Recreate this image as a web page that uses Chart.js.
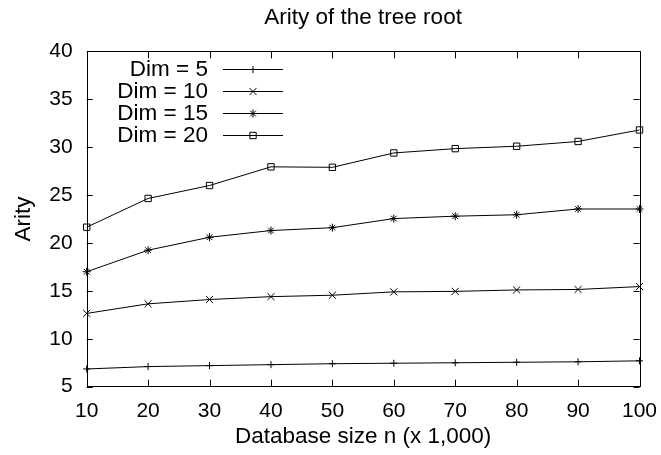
<!DOCTYPE html>
<html>
<head>
    <title>Arity of the tree root</title>
    <script src="https://cdn.jsdelivr.net/npm/chart.js"></script>
    <style>
        body { margin: 0; background: #fff; }
    </style>
</head>
<body>
    <canvas id="arityChart" width="661" height="455"></canvas>

    <script>
        // values
        const sizes = [10, 20, 30, 40, 50, 60, 70, 80, 90, 100];
        const dim5  = [6.85, 7.1, 7.2, 7.3, 7.4, 7.45, 7.5, 7.55, 7.6, 7.7];
        const dim10 = [12.65, 13.65, 14.1, 14.4, 14.55, 14.9, 14.95, 15.1, 15.15, 15.45];
        const dim15 = [17.0, 19.25, 20.6, 21.3, 21.6, 22.55, 22.8, 22.95, 23.55, 23.55];
        const dim20 = [21.65, 24.65, 26.0, 27.95, 27.9, 29.4, 29.85, 30.1, 30.6, 31.8];
        const seriesLabels = ['Dim = 5', 'Dim = 10', 'Dim = 15', 'Dim = 20'];
        const seriesStyles = ['cross', 'crossRot', 'star', 'rect'];
        const seriesRadius = [3.5, 5, 4, 4.5];

        const FONT = "'Liberation Sans', Arial, Helvetica, sans-serif";

        function points(vals) {
            return sizes.map((s, i) => ({ x: s, y: vals[i] }));
        }

        const datasets = [dim5, dim10, dim15, dim20].map((vals, i) => ({
            label: seriesLabels[i],
            data: points(vals),
            borderColor: '#000',
            borderWidth: 1,
            backgroundColor: 'rgba(0,0,0,0)',
            pointStyle: seriesStyles[i],
            pointRadius: seriesRadius[i],
            pointBorderColor: '#000',
            pointBorderWidth: 1,
            pointBackgroundColor: 'rgba(0,0,0,0)',
            tension: 0,
            clip: false
        }));

        // gnuplot style frame with inward ticks on all sides
        const framePlugin = {
            id: 'frame',
            afterDatasetsDraw(chart) {
                const ctx = chart.ctx;
                const a = chart.chartArea;
                const xs = chart.scales.x, ys = chart.scales.y;
                ctx.save();
                ctx.strokeStyle = '#000';
                ctx.lineWidth = 1;
                ctx.beginPath();
                ys.ticks.forEach(t => {
                    const y = Math.round(ys.getPixelForValue(t.value)) + 0.5;
                    ctx.moveTo(a.left, y); ctx.lineTo(a.left + 6, y);
                    ctx.moveTo(a.right, y); ctx.lineTo(a.right - 6, y);
                });
                xs.ticks.forEach(t => {
                    const x = Math.round(xs.getPixelForValue(t.value)) + 0.5;
                    ctx.moveTo(x, a.bottom); ctx.lineTo(x, a.bottom - 7);
                    ctx.moveTo(x, a.top); ctx.lineTo(x, a.top + 7);
                });
                ctx.stroke();
                ctx.strokeRect(Math.round(a.left) + 0.5, Math.round(a.top) + 0.5,
                    Math.round(a.right - a.left), Math.round(a.bottom - a.top));
                ctx.restore();
            }
        };

        // legend drawn inside the plot: text right aligned, sample line on the right
        const keyPlugin = {
            id: 'key',
            afterDatasetsDraw(chart) {
                const ctx = chart.ctx;
                ctx.save();
                ctx.font = '22.5px ' + FONT;
                ctx.textAlign = 'right';
                ctx.textBaseline = 'middle';
                chart.data.datasets.forEach((ds, i) => {
                    const y = 69 + i * 22;
                    ctx.fillStyle = '#000';
                    ctx.fillText(ds.label, 208, y + 1);
                    ctx.strokeStyle = '#000';
                    ctx.lineWidth = 1;
                    ctx.beginPath();
                    ctx.moveTo(223, y + 0.5);
                    ctx.lineTo(283, y + 0.5);
                    ctx.stroke();
                    ctx.fillStyle = 'rgba(0,0,0,0)';
                    Chart.helpers.drawPoint(ctx, {
                        pointStyle: ds.pointStyle,
                        radius: ds.pointRadius,
                        rotation: 0,
                        borderWidth: 1
                    }, 253, y + 0.5);
                });
                ctx.restore();
            }
        };

        new Chart(document.getElementById('arityChart'), {
            type: 'line',
            data: { datasets },
            plugins: [framePlugin, keyPlugin],
            options: {
                responsive: false,
                animation: false,
                layout: { padding: { left: 0, right: 21.5, top: 0, bottom: 0 } },
                plugins: {
                    legend: { display: false },
                    tooltip: { enabled: false },
                    title: {
                        display: true,
                        text: 'Arity of the tree root',
                        fullSize: false,
                        color: '#000',
                        font: { family: FONT, size: 22.5, weight: 'normal', lineHeight: 1.2 },
                        padding: { top: 4, bottom: 20.4 }
                    }
                },
                scales: {
                    x: {
                        type: 'linear',
                        min: 10,
                        max: 100,
                        grid: { display: false, drawTicks: false },
                        border: { display: false },
                        ticks: {
                            stepSize: 10,
                            color: '#000',
                            padding: 12,
                            maxRotation: 0,
                            font: { family: FONT, size: 21 }
                        },
                        title: {
                            display: true,
                            text: 'Database size n (x 1,000)',
                            color: '#000',
                            font: { family: FONT, size: 22.5, lineHeight: 1.2 },
                            padding: { top: 0, bottom: 5 }
                        },
                        afterFit(scale) {
                            scale.height = 68.3;
                            scale.paddingLeft = 0;
                            scale.paddingRight = 0;
                        }
                    },
                    y: {
                        min: 5,
                        max: 40,
                        grid: { display: false, drawTicks: false },
                        border: { display: false },
                        ticks: {
                            stepSize: 5,
                            color: '#000',
                            padding: 14,
                            font: { family: FONT, size: 21 }
                        },
                        title: {
                            display: true,
                            text: 'Arity',
                            color: '#000',
                            font: { family: FONT, size: 22.5, lineHeight: 1.2 },
                            padding: { top: 10, bottom: 0 }
                        },
                        afterFit(scale) {
                            scale.width = 86.7;
                            scale.paddingTop = 0;
                            scale.paddingBottom = 0;
                        }
                    }
                }
            }
        });
    </script>
</body>
</html>
